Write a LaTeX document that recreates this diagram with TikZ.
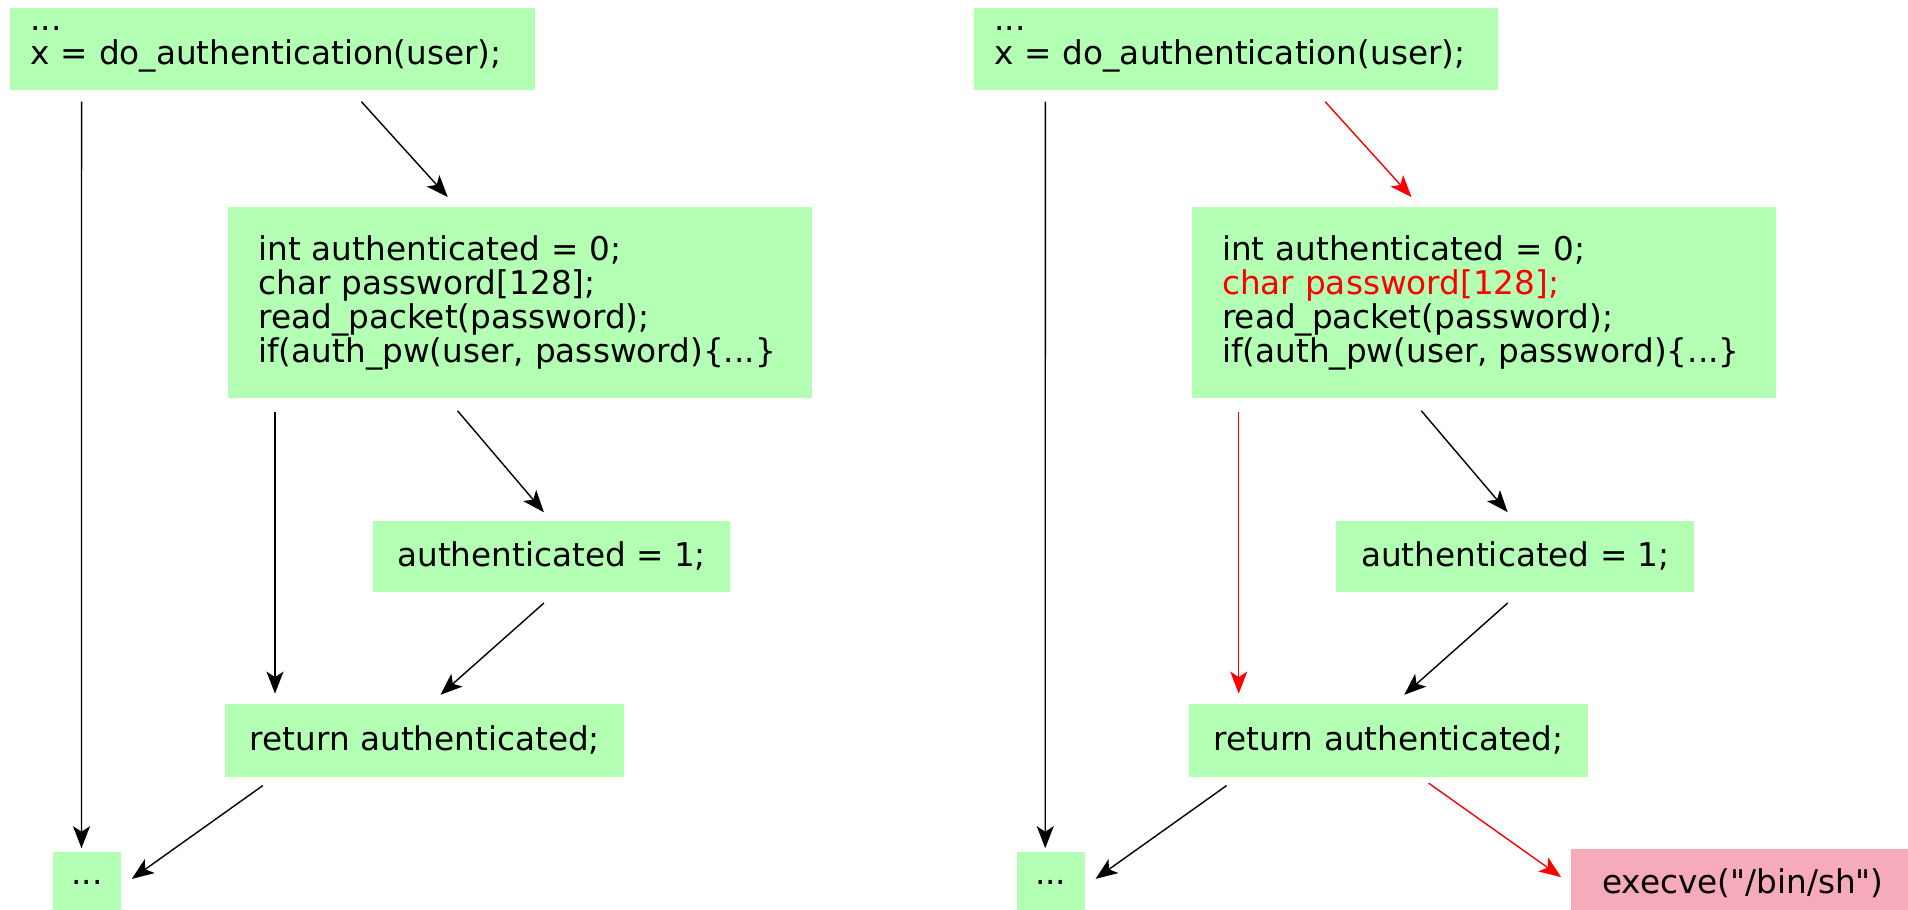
\documentclass[tikz,border=0pt]{standalone}
\usepackage{fontspec}
\setmainfont{DejaVu Sans}
\usetikzlibrary{arrows.meta}
\definecolor{codegreen}{RGB}{179,255,179}
\definecolor{shellpink}{RGB}{247,170,185}
\tikzset{
	box/.style={fill=codegreen, inner sep=0pt, anchor=north west, font=\fontsize{18.6}{19.4}\selectfont},
	arr/.style={-{Stealth[length=0.44cm,width=0.34cm,inset=0.11cm]}, line width=0.8pt}
}
\begin{document}
\begin{tikzpicture}
	\useasboundingbox (0,0) rectangle (38.16,18.18);
	\clip (0,0) rectangle (38.16,18.18);

	\node [box, minimum width=10.49cm, minimum height=1.65cm, text width=9.67cm, align=left] (callL) at (0.195,18.034)
	{
		...\\
		x = do\_authentication(user);
	};
	\node [box, minimum width=11.68cm, minimum height=3.82cm, text width=10.46cm, align=left] (funcL) at (4.551,14.043)
	{
		int authenticated = 0;\\
		char password[128];\\
		read\_packet(password);\\
		if(auth\_pw(user, password)\{...\}
	};
	\node [box, minimum width=7.155cm, minimum height=1.41cm] (setL) at (7.447,7.764) {authenticated = 1;};
	\node [box, minimum width=7.98cm, minimum height=1.46cm] (retL) at (4.502,4.113) {return authenticated;};
	\node [box, anchor=north, minimum width=1.36cm, minimum height=1.22cm] (contL) at (1.74,1.146) {...};

	\draw [arr] ([xshift=1.436cm,yshift=-0.224cm]callL.south west) -- ([xshift=-0.11cm,yshift=0.07cm]contL.north);
	\draw [arr] ([xshift=7.033cm,yshift=-0.224cm]callL.south west) -- ([xshift=4.405cm,yshift=0.194cm]funcL.north west);
	\draw [arr] ([xshift=0.949cm,yshift=-0.269cm]funcL.south west) -- ([xshift=0.998cm,yshift=0.195cm]retL.north west);
	\draw [arr] ([xshift=4.6cm,yshift=-0.245cm]funcL.south west) -- ([xshift=3.432cm,yshift=0.17cm]setL.north west);
	\draw [arr] ([xshift=3.432cm,yshift=-0.22cm]setL.south west) -- ([xshift=4.308cm,yshift=0.171cm]retL.north west);
	\draw [arr] ([xshift=0.755cm,yshift=-0.17cm]retL.south west) -- ([xshift=0.208cm,yshift=0.073cm]contL.east);

	\begin{scope}[xshift=19.275cm]
	\node [box, minimum width=10.49cm, minimum height=1.65cm, text width=9.67cm, align=left] (callR) at (0.195,18.034)
	{
		...\\
		x = do\_authentication(user);
	};
	\node [box, minimum width=11.68cm, minimum height=3.82cm, text width=10.46cm, align=left] (funcR) at (4.551,14.043)
	{
		int authenticated = 0;\\
		\textcolor{red}{char password[128];}\\
		read\_packet(password);\\
		if(auth\_pw(user, password)\{...\}
	};
	\node [box, minimum width=7.155cm, minimum height=1.41cm] (setR) at (7.447,7.764) {authenticated = 1;};
	\node [box, minimum width=7.98cm, minimum height=1.46cm] (retR) at (4.502,4.113) {return authenticated;};
	\node [box, anchor=north, minimum width=1.36cm, minimum height=1.22cm] (contR) at (1.74,1.146) {...};
	\node [box, fill=shellpink, anchor=north, minimum width=6.89cm, minimum height=1.38cm] (shell) at (15.585,1.214) {execve(\textquotedbl/bin/sh\textquotedbl)};

	\draw [arr] ([xshift=1.436cm,yshift=-0.224cm]callR.south west) -- ([xshift=-0.11cm,yshift=0.07cm]contR.north);
	\draw [arr, red] ([xshift=7.033cm,yshift=-0.224cm]callR.south west) -- ([xshift=4.405cm,yshift=0.194cm]funcR.north west);
	\draw [arr, red] ([xshift=0.949cm,yshift=-0.269cm]funcR.south west) -- ([xshift=0.998cm,yshift=0.195cm]retR.north west);
	\draw [arr] ([xshift=4.6cm,yshift=-0.245cm]funcR.south west) -- ([xshift=3.432cm,yshift=0.17cm]setR.north west);
	\draw [arr] ([xshift=3.432cm,yshift=-0.22cm]setR.south west) -- ([xshift=4.308cm,yshift=0.171cm]retR.north west);
	\draw [arr] ([xshift=0.755cm,yshift=-0.17cm]retR.south west) -- ([xshift=0.208cm,yshift=0.073cm]contR.east);
	\draw [arr, red] ([xshift=4.795cm,yshift=-0.122cm]retR.south west) -- ([xshift=-0.185cm,yshift=0.12cm]shell.west);
	\end{scope}
\end{tikzpicture}
\end{document}
